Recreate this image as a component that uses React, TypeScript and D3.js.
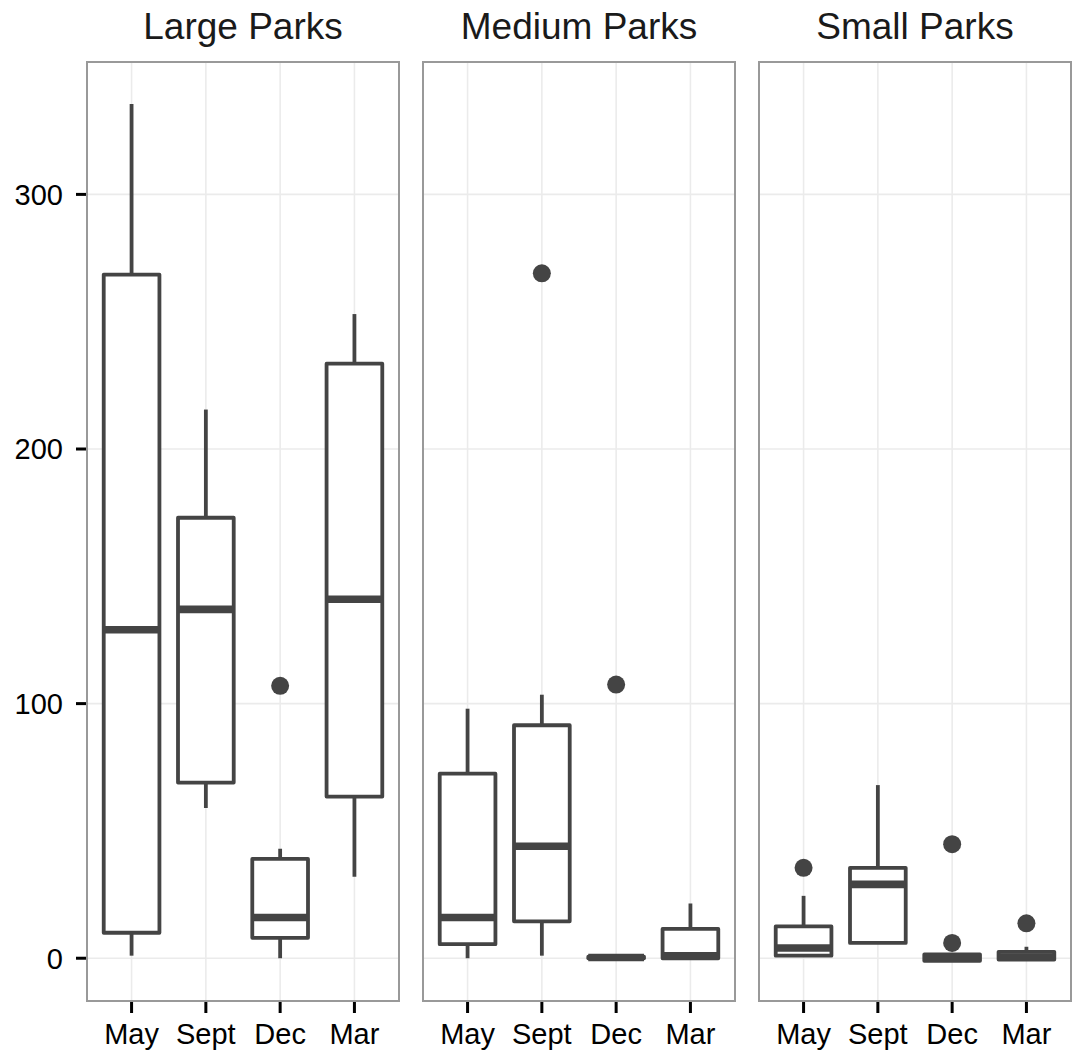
import React from 'react';
import * as d3 from 'd3';

const panels = ['Large Parks', 'Medium Parks', 'Small Parks'];
const months = ['May', 'Sept', 'Dec', 'Mar'];
const yTicks = [0, 100, 200, 300];

// [lower whisker, q1, median, q3, upper whisker] per month
const largeStats = [
  [1, 10, 129, 268.5, 335.5],
  [59, 69, 137, 173, 215.5],
  [0, 8, 16, 39, 43],
  [32, 63.5, 141, 233.5, 253]
];
const mediumStats = [
  [0, 5.5, 16, 72.5, 98],
  [1, 14.5, 44, 91.5, 103.5],
  [0, 0, 0.3, 0.6, 1],
  [0, 0, 1, 11.5, 21.5]
];
const smallStats = [
  [1, 1, 4, 12.5, 24.5],
  [6, 6, 29, 35.5, 68],
  [-1, -1, 0, 1.5, 2],
  [-0.5, -0.5, 0.5, 2.5, 4.5]
];
const largeOutliers = [[], [], [107], []];
const mediumOutliers = [[], [269], [107.5], []];
const smallOutliers = [[35.5], [], [44.8, 6], [13.7]];

const stats = [largeStats, mediumStats, smallStats];
const outliers = [largeOutliers, mediumOutliers, smallOutliers];

const W = 1073;
const H = 1051;
const panelLeft = [87, 423, 759];
const panelW = 312;
const top = 62;
const bottom = 1001;
const ink = '#444444';
const font = '"Liberation Sans", Arial, Helvetica, sans-serif';

export default function App() {
  const y = d3.scaleLinear().domain([-16.8, 352]).range([bottom, top]);

  return (
    <svg width={W} height={H} style={{ position: 'absolute', left: 0, top: 0, background: '#fff' }}>
      <rect width={W} height={H} fill="#fff" />
      {panels.map((name, p) => {
        const x = d3.scalePoint<string>()
          .domain(months)
          .range([panelLeft[p], panelLeft[p] + panelW])
          .padding(0.6);
        const step = x.step();
        const bw = step * 0.75;
        return (
          <g key={name}>
            <text
              x={panelLeft[p] + panelW / 2}
              y={39}
              textAnchor="middle"
              fontFamily={font}
              fontSize={37}
              fill="#1a1a1a"
            >{name}</text>
            {yTicks.map(t => (
              <line key={t} x1={panelLeft[p]} x2={panelLeft[p] + panelW} y1={y(t)} y2={y(t)}
                stroke="#ebebeb" strokeWidth={1.6} />
            ))}
            {months.map(m => (
              <line key={m} x1={x(m)} x2={x(m)} y1={top} y2={bottom} stroke="#ebebeb" strokeWidth={1.6} />
            ))}
            {months.map((m, i) => {
              const [lo, q1, med, q3, hi] = stats[p][i];
              const cx = x(m) as number;
              return (
                <g key={m} strokeLinejoin="round">
                  <line x1={cx} x2={cx} y1={y(hi)} y2={y(q3)} stroke={ink} strokeWidth={3.8} />
                  <line x1={cx} x2={cx} y1={y(q1)} y2={y(lo)} stroke={ink} strokeWidth={3.8} />
                  <rect x={cx - bw / 2} y={y(q3)} width={bw} height={Math.max(0, y(q1) - y(q3))}
                    fill="#fff" stroke={ink} strokeWidth={3.8} />
                  <line x1={cx - bw / 2} x2={cx + bw / 2} y1={y(med)} y2={y(med)} stroke={ink} strokeWidth={7.6} />
                  {outliers[p][i].map((v, k) => (
                    <circle key={k} cx={cx} cy={y(v)} r={9} fill={ink} />
                  ))}
                </g>
              );
            })}
            <rect x={panelLeft[p]} y={top} width={panelW} height={bottom - top}
              fill="none" stroke="#999999" strokeWidth={2} />
            {months.map(m => (
              <g key={m}>
                <line x1={x(m)} x2={x(m)} y1={bottom + 1} y2={bottom + 12} stroke="#000" strokeWidth={3} />
                <text x={x(m)} y={1044} textAnchor="middle" fontFamily={font} fontSize={29} fill="#000">{m}</text>
              </g>
            ))}
          </g>
        );
      })}
      {yTicks.map(t => (
        <g key={t}>
          <line x1={76} x2={86} y1={y(t)} y2={y(t)} stroke="#000" strokeWidth={3} />
          <text x={63} y={y(t)} dy="0.36em" textAnchor="end" fontFamily={font} fontSize={29} fill="#000">{t}</text>
        </g>
      ))}
    </svg>
  );
}
